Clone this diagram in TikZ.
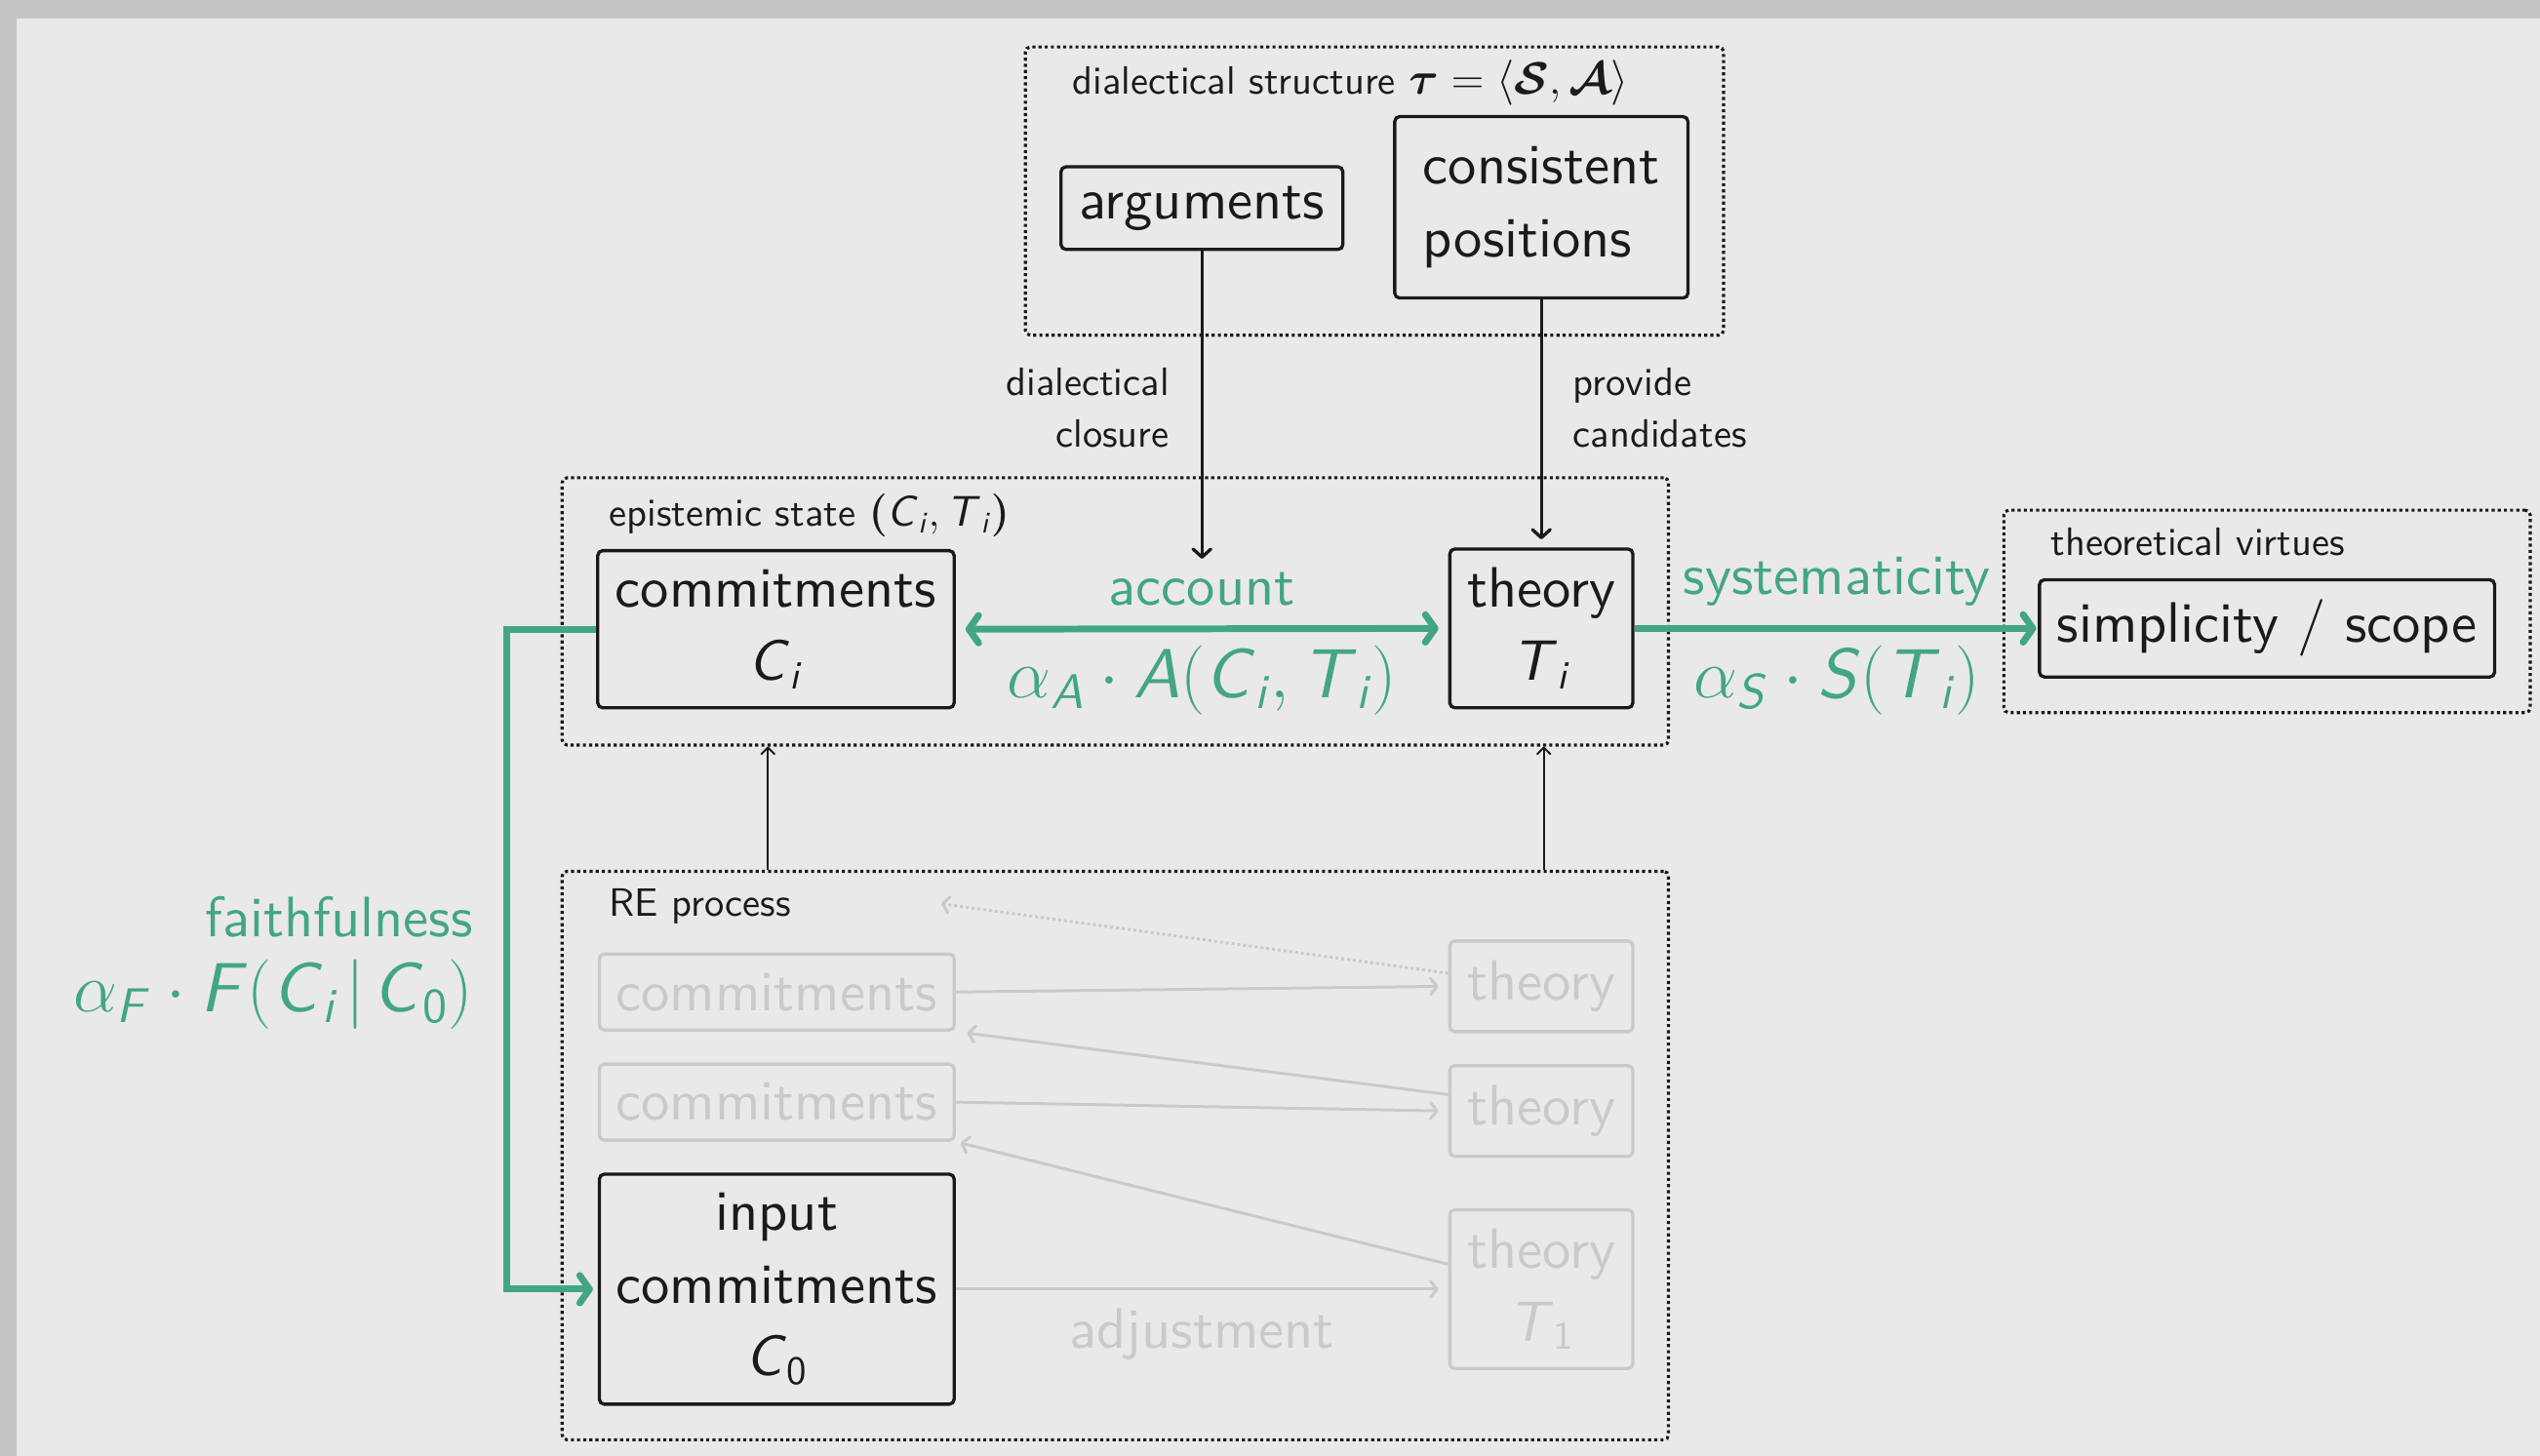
\RequirePackage{fix-cm}
\documentclass[tikz,border=0pt]{standalone}
\usepackage{amsmath,bm}
\usepackage{fontspec}
\setsansfont{lmsans10-regular.otf}[ItalicFont=lmsans10-oblique.otf, BoldFont=lmsans10-bold.otf]
\usetikzlibrary{arrows.meta,calc}
\definecolor{rgreen}{RGB}{67,166,130}
\definecolor{lgray}{RGB}{202,202,202}
\definecolor{bgc}{RGB}{233,233,231}
\definecolor{bord}{RGB}{196,198,197}
\definecolor{ink}{RGB}{26,26,26}
\renewcommand{\familydefault}{\sfdefault}
\newcommand{\sv}[1]{\textsf{\textit{#1}}}
\newcommand{\bigf}{\fontsize{35.2}{45}\selectfont}
\newcommand{\smallf}{\fontsize{24.4}{32}\selectfont}
\newcommand{\formf}{\fontsize{43}{50}\selectfont}
\tikzset{
  box/.style={draw=ink, line width=2pt, rounded corners=3pt, inner sep=0pt, text=ink, font=\bigf, align=center},
  gbox/.style={box, draw=lgray, text=lgray},
  frame/.style={draw=ink, line width=1.9pt, dash pattern=on 1.9pt off 1.9pt, rounded corners=3pt, inner sep=0pt},
  lbl/.style={font=\smallf, text=ink, inner sep=0pt},
  glbl/.style={font=\bigf, text=rgreen, inner sep=0pt},
  gform/.style={font=\formf, text=rgreen, inner sep=0pt},
  blarrow/.style={draw=ink, line width=2pt, -{Straight Barb[length=5pt,width=11pt,round]}},
  thinarrow/.style={draw=ink, line width=1.2pt, -{Straight Barb[length=4pt,width=8pt,round]}},
  grarrow/.style={draw=rgreen, line width=4.2pt, -{Straight Barb[length=6pt,width=17pt,round]}},
  grarrows/.style={draw=rgreen, line width=4.2pt, {Straight Barb[length=6pt,width=17pt,round]}-{Straight Barb[length=6pt,width=17pt,round]}},
  lgarrow/.style={draw=lgray, line width=1.8pt, -{Straight Barb[length=4pt,width=10pt,round]}},
}
\begin{document}
\begin{tikzpicture}[x=1pt,y=-1pt]
\useasboundingbox (0,0) rectangle (1568,899);
\fill[bord] (0,0) rectangle (1568,899);
\fill[bgc] (10.5,11.5) rectangle (1568,899);

% frames
\node[frame, minimum width=431pt, minimum height=178pt] (ds) at (848.5,118) {};
\node[frame, minimum width=683pt, minimum height=165pt] (ep) at (688.5,377.5) {};
\node[frame, minimum width=325pt, minimum height=125pt] (tv) at (1399.5,377.5) {};
\node[frame, minimum width=683pt, minimum height=351pt] (re) at (688.5,713.5) {};

% frame titles
\node[lbl, anchor=base west] (dst) at (662,58) {dialectical structure {\fontsize{28}{32}\selectfont$\bm{\tau} = \langle \bm{\mathcal{S}}, \bm{\mathcal{A}}\rangle$}};
\node[lbl, anchor=base west] (ept) at (376,325) {epistemic state {\fontsize{26.5}{32}\selectfont$\bm{(}\sv{C}_{\sv{i}}, \sv{T}_{\sv{i}}\bm{)}$}};
\node[lbl, anchor=base west] (tvt) at (1266,343) {theoretical virtues};
\node[lbl, anchor=base west] (ret) at (376,566) {RE process};

% top boxes
\node[box, minimum width=174pt, minimum height=51pt] (args) at (742,128.5) {arguments};
\node[box, align=left, minimum width=181pt, minimum height=112pt] (cons) at (951.5,128) {consistent\\positions};

% epistemic state
\node[box, minimum width=220pt, minimum height=97pt] (ci) at (479,388.5) {commitments\\$\sv{C}_{\sv{i}}$};
\node[box, minimum width=113pt, minimum height=98pt] (ti) at (951.5,388) {theory\\$\sv{T}_{\sv{i}}$};

% virtues
\node[box, minimum width=281pt, minimum height=60pt] (simp) at (1399.5,388) {simplicity / scope};

% RE process
\node[gbox, minimum width=219pt, minimum height=47pt] (cm1) at (479.5,612.5) {commitments};
\node[gbox, minimum width=219pt, minimum height=47pt] (cm2) at (479.5,680.5) {commitments};
\node[box, minimum width=219pt, minimum height=142pt] (c0) at (479.5,796) {input\\commitments\\$\sv{C}_{\textsf{0}}$};
\node[gbox, minimum width=113pt, minimum height=56pt] (th1) at (951.5,609) {theory};
\node[gbox, minimum width=113pt, minimum height=56pt] (th2) at (951.5,686) {theory};
\node[gbox, minimum width=113pt, minimum height=98pt] (t1) at (951.5,796) {theory\\$\sv{T}_{\textsf{1}}$};

% black connectors
\coordinate (argend) at (742,345);
\draw[blarrow] (args.south) -- (argend);
\draw[blarrow, shorten >=5pt] (cons.south) -- (ti.north);
\node[lbl, anchor=base east] (dc1) at (722,244) {dialectical};
\node[lbl, anchor=base east] (dc2) at (722,276) {closure};
\node[lbl, anchor=base west] (pc1) at (971,244) {provide};
\node[lbl, anchor=base west] (pc2) at (971,276) {candidates};

\coordinate (ua) at (474,0);
\coordinate (ub) at (953,0);
\draw[thinarrow] (re.north -| ua) -- (ep.south -| ua);
\draw[thinarrow] (re.north -| ub) -- (ep.south -| ub);

% green connectors
\draw[grarrows, shorten <=6pt, shorten >=6pt] (ci.east) -- (ti.west);
\node[glbl] (acc) at (742,364) {account};
\node[gform] (accf) at (742,420) {$\alpha_{\sv{A}}\cdot \sv{A}(\sv{C}_{\sv{i}}, \sv{T}_{\sv{i}})$};

\draw[grarrow, shorten >=1pt] (ti.east) -- (simp.west);
\node[glbl] (sys) at (1134,359) {systematicity};
\node[gform] (sysf) at (1134,420) {$\alpha_{\sv{S}}\cdot \sv{S}(\sv{T}_{\sv{i}})$};

\draw[grarrow, shorten >=3pt] (ci.west) -- ++(-55,0) |- (c0.west);
\node[glbl, anchor=east] (fa) at (292,566) {faithfulness};
\node[gform, anchor=east] (faf) at (292,614) {$\alpha_{\sv{F}}\cdot \sv{F}(\sv{C}_{\sv{i}}\mkern2mu|\mkern2mu\sv{C}_{\textsf{0}})$};

% gray RE connectors
\draw[lgarrow, shorten >=6pt] (cm1.east) -- (th1.west);
\draw[lgarrow, shorten >=7pt] (th2.170) -- (cm1.south east);
\draw[lgarrow, shorten >=6pt] (cm2.east) -- (th2.west);
\draw[lgarrow, shorten >=3pt] (t1.165) -- (cm2.south east);
\draw[lgarrow, shorten >=6pt] (c0.east) -- (t1.west);
\coordinate (dotend) at (581,558);
\draw[lgarrow, dash pattern=on 1.8pt off 1.8pt] (th1.172) -- (dotend);
\node[font=\bigf, text=lgray, inner sep=0pt] (adj) at (742,824) {adjustment};
\end{tikzpicture}
\end{document}
